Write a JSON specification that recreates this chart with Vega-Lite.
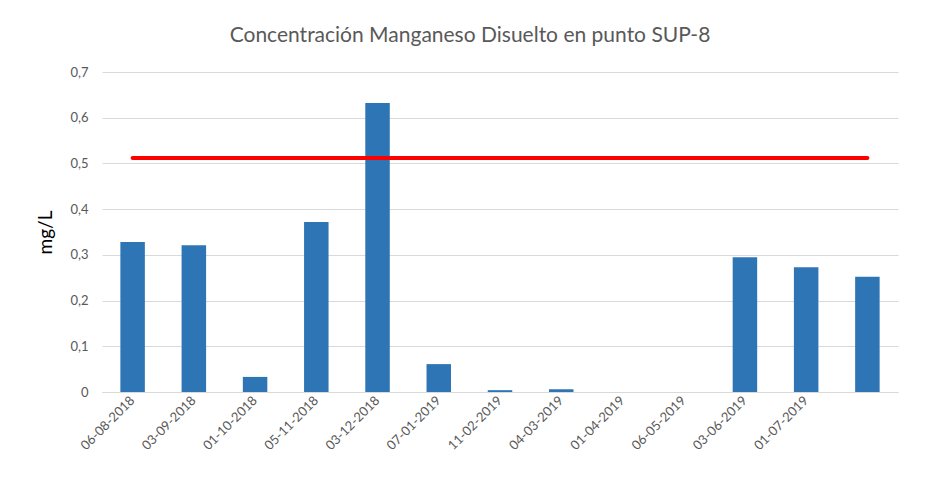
{
  "$schema": "https://vega.github.io/schema/vega-lite/v6.json",
  "width": 796,
  "height": 320,
  "autosize": {"type": "none"},
  "padding": {"left": 102, "top": 72, "right": 40, "bottom": 85},
  "background": "white",
  "config": {
    "font": "Lato",
    "view": {"stroke": null},
    "axis": {"labelFont": "Lato", "titleFont": "Lato"}
  },
  "title": {
    "text": "Concentración Manganeso Disuelto en punto SUP-8",
    "font": "Lato",
    "fontSize": 21,
    "fontWeight": "normal",
    "color": "#595959",
    "anchor": "middle",
    "dx": -30,
    "offset": 20
  },
  "data": {
    "values": [
      {"fecha": "06-08-2018", "valor": 0.328, "limite": 0.512},
      {"fecha": "03-09-2018", "valor": 0.321, "limite": 0.512},
      {"fecha": "01-10-2018", "valor": 0.033, "limite": 0.512},
      {"fecha": "05-11-2018", "valor": 0.372, "limite": 0.512},
      {"fecha": "03-12-2018", "valor": 0.632, "limite": 0.512},
      {"fecha": "07-01-2019", "valor": 0.061, "limite": 0.512},
      {"fecha": "11-02-2019", "valor": 0.004, "limite": 0.512},
      {"fecha": "04-03-2019", "valor": 0.006, "limite": 0.512},
      {"fecha": "01-04-2019", "valor": null, "limite": 0.512},
      {"fecha": "06-05-2019", "valor": null, "limite": 0.512},
      {"fecha": "03-06-2019", "valor": 0.295, "limite": 0.512},
      {"fecha": "01-07-2019", "valor": 0.273, "limite": 0.512},
      {"fecha": "-", "valor": 0.252, "limite": 0.512}
    ]
  },
  "encoding": {
    "x": {
      "field": "fecha",
      "type": "nominal",
      "sort": null,
      "scale": {
        "domain": ["06-08-2018", "03-09-2018", "01-10-2018", "05-11-2018", "03-12-2018", "07-01-2019", "11-02-2019", "04-03-2019", "01-04-2019", "06-05-2019", "03-06-2019", "01-07-2019", "-"],
        "paddingInner": 0.6,
        "paddingOuter": 0.3
      },
      "axis": {
        "title": null,
        "labelAngle": -45,
        "labelAlign": "right",
        "labelBaseline": "middle",
        "labelFontSize": 13,
        "labelColor": "#595959",
        "labelPadding": 6,
        "ticks": false,
        "domainColor": "#d9d9d9",
        "domainWidth": 1,
        "labelExpr": "datum.value == '-' ? '' : datum.value"
      }
    }
  },
  "layer": [
    {
      "mark": {"type": "bar", "color": "#2e75b6"},
      "encoding": {
        "y": {
          "field": "valor",
          "type": "quantitative",
          "scale": {"domain": [0, 0.7], "nice": false},
          "axis": {
            "title": "mg/L",
            "titleFontSize": 19,
            "titleFontWeight": "normal",
            "titleColor": "#000000",
            "titlePadding": 14,
            "values": [0, 0.1, 0.2, 0.3, 0.4, 0.5, 0.6, 0.7],
            "labelExpr": "datum.value == 0 ? '0' : replace(format(datum.value, '.1f'), '.', ',')",
            "labelFontSize": 13,
            "labelColor": "#595959",
            "labelPadding": 14,
            "ticks": false,
            "domain": false,
            "gridColor": "#d9d9d9",
            "gridWidth": 1
          }
        }
      }
    },
    {
      "mark": {"type": "line", "color": "#ff0000", "strokeWidth": 4, "strokeCap": "round"},
      "encoding": {
        "y": {"field": "limite", "type": "quantitative"}
      }
    }
  ]
}
